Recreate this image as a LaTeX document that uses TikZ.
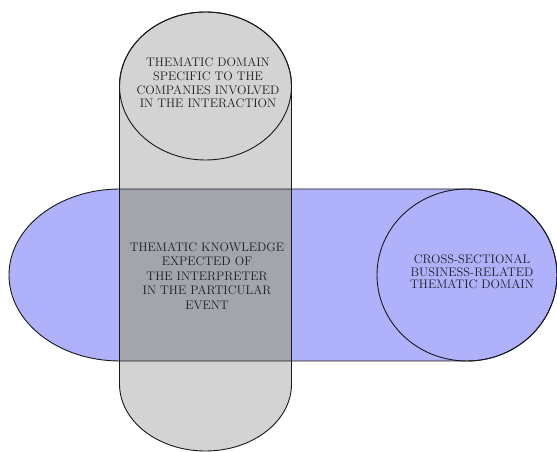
\documentclass[tikz,border=0pt]{standalone}
\usepackage{tikz}

\definecolor{pillblue}{RGB}{175,178,250}
\definecolor{pillgray}{RGB}{211,211,211}
\definecolor{overlapgray}{RGB}{164,164,171}
\definecolor{labelgray}{RGB}{30,30,38}

\begin{document}
\begin{tikzpicture}[x=1pt,y=1pt,
			outline/.style={draw=black!90,line width=0.9pt},
			domain text/.style={align=center,text=labelgray,font=\fontsize{12.4}{#1}\selectfont},
			domain text/.default=14.5
			]
		\useasboundingbox (0,0) rectangle (557,452);
		% fills
		\fill [pillblue] (120,263) -- (467,263) arc[start angle=90,end angle=-90,x radius=90,y radius=86]
			-- (120,91) arc[start angle=270,end angle=90,x radius=111,y radius=86] -- cycle;
		\fill [pillgray] (119.5,366) arc[start angle=180,end angle=0,x radius=86,y radius=74]
			-- (291.5,68) arc[start angle=0,end angle=-180,x radius=86,y radius=67] -- cycle;
		\fill [overlapgray] (119.5,91) rectangle (291.5,263);
		% outlines
		\draw [outline] (120,263) -- (467,263) arc[start angle=90,end angle=-90,x radius=90,y radius=86]
			-- (120,91) arc[start angle=270,end angle=90,x radius=111,y radius=86] -- cycle;
		\draw [outline] (119.5,366) arc[start angle=180,end angle=0,x radius=86,y radius=74]
			-- (291.5,68) arc[start angle=0,end angle=-180,x radius=86,y radius=67] -- cycle;
		\draw [outline] (205.5,366) ellipse [x radius=86,y radius=74];
		\draw [outline] (467,177) ellipse [x radius=90,y radius=86];

		\node [domain text=13.8] (specific) at (208,369) {THEMATIC DOMAIN\\SPECIFIC TO THE\\COMPANIES INVOLVED\\IN THE INTERACTION};
		\node [domain text] (expected) at (207,176) {THEMATIC KNOWLEDGE\\EXPECTED OF\\THE INTERPRETER\\IN THE PARTICULAR\\EVENT};
		\node [domain text=12.5] (crosssec) at (472,180) {CROSS-SECTIONAL\\BUSINESS-RELATED\\THEMATIC DOMAIN};
		\end{tikzpicture}
\end{document}
